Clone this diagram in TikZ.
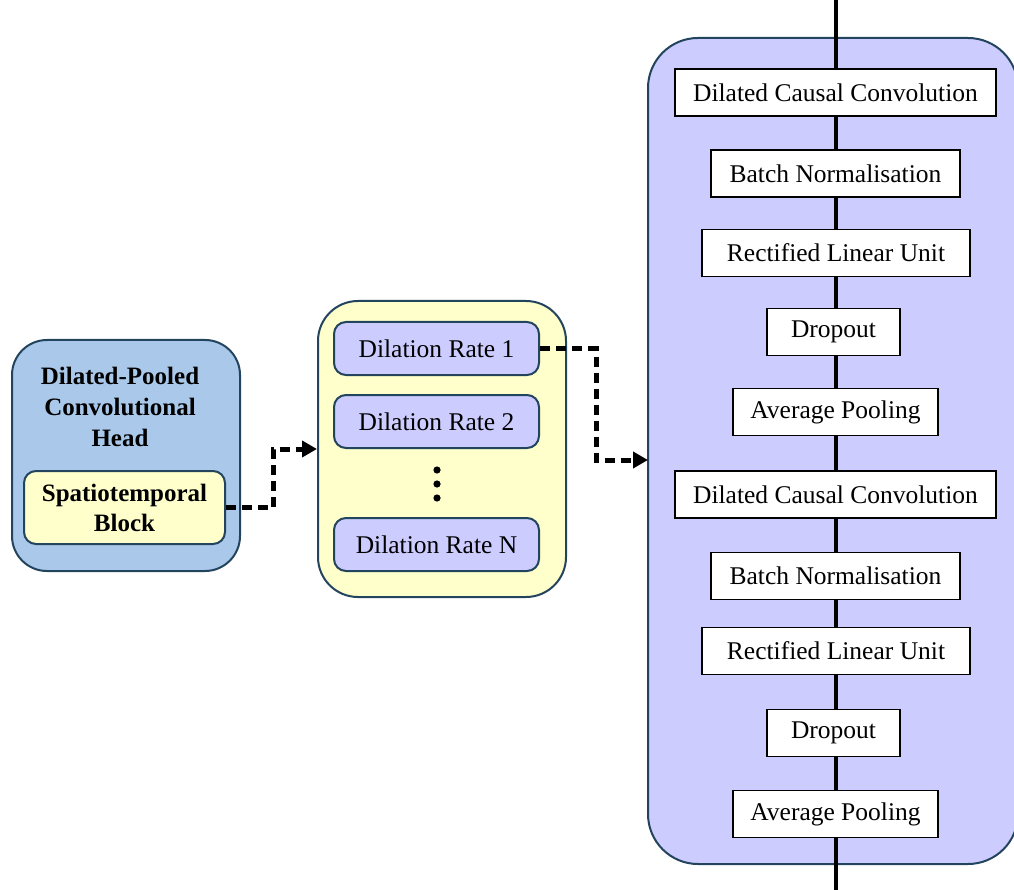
\documentclass[tikz,border=0pt]{standalone}
\usepackage{fontspec}
\setmainfont{Liberation Serif}
\usetikzlibrary{arrows.meta}
\definecolor{panelblue}{RGB}{169,200,234}
\definecolor{paleyellow}{RGB}{255,255,204}
\definecolor{lavender}{RGB}{204,204,255}
\definecolor{navy}{RGB}{35,68,93}
\tikzset{
  panel/.style={draw=navy, line width=2pt, rounded corners=#1, inner sep=0pt},
  ratebox/.style={panel=12pt, fill=lavender, minimum width=205pt, minimum height=53pt,
    font=\fontsize{25.5}{30}\selectfont},
  layerbox/.style={draw=black, line width=1.6pt, fill=white, inner sep=0pt,
    minimum height=47pt, font=\fontsize{25.5}{30}\selectfont},
  dasharrow/.style={line width=5pt, dash pattern=on 10pt off 6pt,
    -{Triangle[length=15pt,width=16pt]}},
  spine/.style={line width=4pt}
}
\begin{document}
\begin{tikzpicture}[x=1pt,y=-1pt]
\useasboundingbox (0,0) rectangle (1014,890);
% head panel with its spatiotemporal block
\node[panel=35pt, fill=panelblue, minimum width=228pt, minimum height=231pt] (head) at (126,455.5) {};
\node[align=center, font=\bfseries\fontsize{25}{31}\selectfont] (title) at (120,407) {Dilated-Pooled\\Convolutional\\Head};
\node[panel=12pt, fill=paleyellow, minimum width=201pt, minimum height=73pt, align=center,
  font=\bfseries\fontsize{25}{30}\selectfont] (st) at (124.5,507.5) {Spatiotemporal\\Block};
% dilation rates
\node[panel=40pt, fill=paleyellow, minimum width=248pt, minimum height=296pt] (mid) at (442,449) {};
\node[ratebox] (dr1) at (436.5,348.5) {Dilation Rate 1};
\node[ratebox] (dr2) at (436.5,421.5) {Dilation Rate 2};
\node[ratebox] (drn) at (436.5,544.5) {Dilation Rate N};
\foreach \yy [count=\i] in {470,484,498}
  \fill (437,\yy) circle (3.6pt) coordinate (dot\i);
% layer stack
\node[panel=50pt, fill=lavender, minimum width=370pt, minimum height=826pt] (rp) at (833,451) {};
\node[layerbox, minimum width=321pt] (c1) at (835.5,92.5) {Dilated Causal Convolution};
\node[layerbox, minimum width=249pt] (b1) at (835.5,173.5) {Batch Normalisation};
\node[layerbox, minimum width=268pt] (r1) at (836,253) {Rectified Linear Unit};
\node[layerbox, minimum width=133pt] (d1) at (833.5,332) {Dropout};
\node[layerbox, minimum width=205pt] (p1) at (835.5,412) {Average Pooling};
\node[layerbox, minimum width=321pt] (c2) at (835.5,494.5) {Dilated Causal Convolution};
\node[layerbox, minimum width=249pt] (b2) at (835.5,576) {Batch Normalisation};
\node[layerbox, minimum width=268pt] (r2) at (836,651) {Rectified Linear Unit};
\node[layerbox, minimum width=133pt] (d2) at (833.5,733) {Dropout};
\node[layerbox, minimum width=205pt] (p2) at (835.5,814) {Average Pooling};
\coordinate (top) at (836,0);
\coordinate (bot) at (836,890);
\draw[spine] (top) -- (c1.north -| top);
\foreach \a/\b in {c1/b1,b1/r1,r1/d1,d1/p1,p1/c2,c2/b2,b2/r2,r2/d2,d2/p2}
  \draw[spine] (\a.south -| top) -- (\b.north -| top);
\draw[spine] (p2.south -| top) -- (bot);
% dashed links
\draw[dasharrow] (st.east) -- ++(47,0) |- (mid.west);
\coordinate (rin) at (648,460);
\draw[dasharrow] (dr1.east) -- ++(56,0) |- (rin);
\end{tikzpicture}
\end{document}
